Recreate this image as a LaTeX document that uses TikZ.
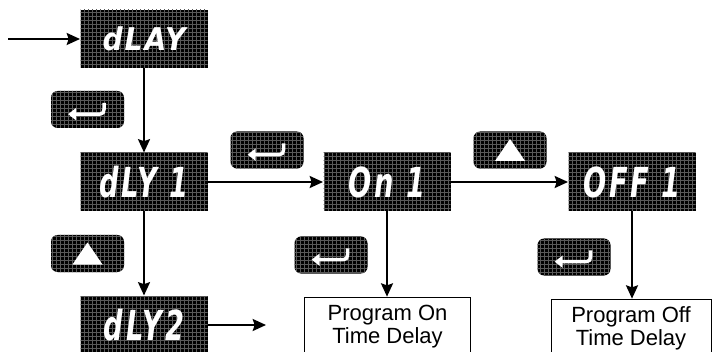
\documentclass[tikz,border=0pt]{standalone}
\usepackage{fontspec}
\setmainfont{Liberation Sans}
\newfontfamily\segfont{DejaVu Sans}[FakeStretch=0.66,LetterSpace=7]
\newfontfamily\segwide{DejaVu Sans}[FakeStretch=0.9,LetterSpace=6]
\usetikzlibrary{arrows.meta,patterns}

\tikzset{every picture/.style={line width=0.75pt}}
\tikzset{
	display/.style={fill=black, postaction={pattern=grid, pattern color=black!65}, minimum width=95.25pt, minimum height=43.5pt, inner sep=0pt, text=white, font=\segfont\bfseries\itshape\fontsize{31}{31}\selectfont},
	keybtn/.style={fill=black, postaction={pattern=grid, pattern color=black!65}, rounded corners=5pt, minimum width=54.75pt, minimum height=27.75pt, inner sep=0pt},
	note/.style={draw, line width=0.75pt, fill=white, minimum width=125pt, minimum height=44pt, align=center, inner sep=0pt, font=\fontsize{16.5}{17}\selectfont},
	flow/.style={line width=1.5pt, -{Stealth[length=10pt,width=9pt,inset=1.5pt]}},
	enterkey/.pic={
		\draw[white, line width=2.6pt, -{Triangle[length=6pt,width=9pt]}] (12.5pt,5pt) .. controls (12.5pt,-3.5pt) .. (6pt,-3.5pt) -- (-14.5pt,-3.5pt);
	},
	upkey/.pic={
		\fill[white] (-11.25pt,-8.25pt) -- (11.25pt,-8.25pt) -- (0,8.25pt) -- cycle;
	}
}

\begin{document}
\begin{tikzpicture}[x=0.75pt,y=0.75pt,yscale=-1,xscale=1]
	\useasboundingbox (0,0) rectangle (712,352);

	% Displays
	\node[display, font=\segwide\bfseries\itshape\fontsize{23.5}{23.5}\selectfont] (dlay) at (144,39) {\raisebox{-3pt}{dLAY}};
	\node[display] (dlyone) at (144,182) {dLY 1};
	\node[display] (dlytwo) at (144,325) {dLY2};
	\node[display] (onone) at (387,182) {On 1};
	\node[display] (offone) at (632,182) {OFF 1};

	% Keys
	\node[keybtn] (keya) at (87.5,109.5) {};
	\node[keybtn] (keyb) at (87.5,253.5) {};
	\node[keybtn] (keyc) at (267,150) {};
	\node[keybtn] (keyd) at (510,150) {};
	\node[keybtn] (keye) at (331,255) {};
	\node[keybtn] (keyf) at (574,257) {};
	\pic at (keya) {enterkey};
	\pic at (keyb) {upkey};
	\pic at (keyc) {enterkey};
	\pic at (keyd) {upkey};
	\pic at (keye) {enterkey};
	\pic at (keyf) {enterkey};

	% Notes
	\node[note] (noteon) at (387.5,326.5) {Program On\\Time Delay};
	\node[note, minimum width=120pt] (noteoff) at (631,328.5) {Program Off\\Time Delay};

	% Connectors
	\coordinate (entry) at (8,39);
	\coordinate (dlytwoout) at (266,325);
	\draw[flow] (entry) -- (dlay);
	\draw[flow] (dlay) -- (dlyone);
	\draw[flow] (dlyone) -- (dlytwo);
	\draw[flow] (dlyone) -- (onone);
	\draw[flow] (onone) -- (offone);
	\draw[flow] (dlytwo) -- (dlytwoout);
	\draw[flow] (onone.south) -- (onone.south |- noteon.north);
	\draw[flow] (offone.south) -- (offone.south |- noteoff.north);

\end{tikzpicture}
\end{document}
